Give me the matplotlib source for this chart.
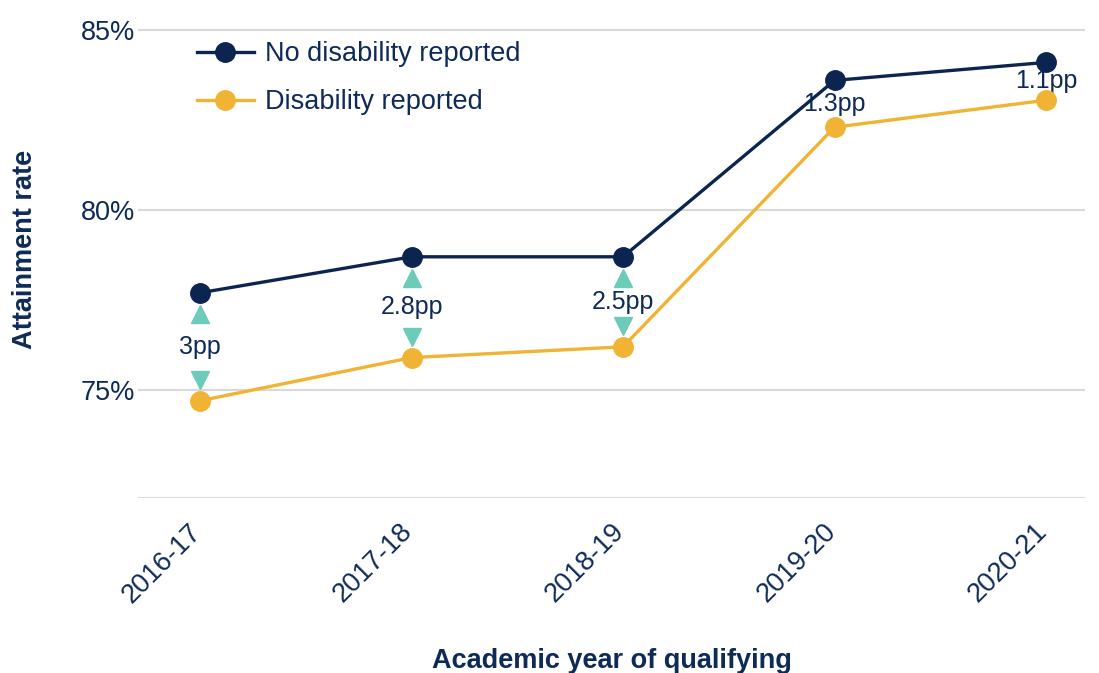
import matplotlib
matplotlib.use("Agg")
import matplotlib.pyplot as plt
from matplotlib.ticker import FuncFormatter
from matplotlib.transforms import ScaledTranslation

plt.rcParams['font.family'] = ['Liberation Sans', 'DejaVu Sans']

years = ["2016-17", "2017-18", "2018-19", "2019-20", "2020-21"]
no_disability = [77.7, 78.7, 78.7, 83.6, 84.1]
disability = [74.7, 75.9, 76.2, 82.3, 83.05]
gap_labels = ["3pp", "2.8pp", "2.5pp", "1.3pp", "1.1pp"]
yticks = [75, 80, 85]

NAVY = "#0c2450"
TEXT = "#0e2a57"
GOLD = "#f0b334"
TEAL = "#6dcbb9"

fig = plt.figure(figsize=(10.99, 6.73), dpi=100)
ax = fig.add_axes([138/1099, (673-498)/673, (1085-138)/1099, 498/673])

x = list(range(len(years)))
ax.plot(x, no_disability, color=NAVY, lw=2.4, marker='o', ms=14, label="No disability reported", zorder=4)
ax.plot(x, disability, color=GOLD, lw=2.4, marker='o', ms=14, label="Disability reported", zorder=4)

off = 0.58
for i in x:
    top, bot = no_disability[i], disability[i]
    gap = top - bot
    if gap > 2:
        ax.plot(i, top - off, marker='^', ms=13, color=TEAL, ls='none', zorder=3)
        ax.plot(i, bot + off, marker='v', ms=13, color=TEAL, ls='none', zorder=3)
    ax.text(i, (top + bot) / 2, gap_labels[i], ha='center', va='center', fontsize=18,
            color=TEXT, zorder=2)

ax.set_xlim(-0.293, 4.184)
ax.set_ylim(72, 85 + 30/36)
ax.set_yticks([72] + yticks)
ax.yaxis.set_major_formatter(FuncFormatter(lambda v, p: "" if v == 72 else f"{v:.0f}%"))
ax.set_xticks(x)
ax.set_xticklabels(years, rotation=45, ha='right', rotation_mode='anchor')
ax.tick_params(axis='both', length=0, labelsize=19.5, labelcolor=TEXT)
ax.tick_params(axis='x', pad=12)
ax.tick_params(axis='y', pad=2)
shift = ScaledTranslation(-12/100, -4/100, fig.dpi_scale_trans)
for lab in ax.get_xticklabels():
    lab.set_transform(lab.get_transform() + shift)
ax.grid(axis='y', color='#d9d9d9', lw=1.5)
ax.set_axisbelow(True)
for s in ax.spines.values():
    s.set_visible(False)

ax.set_xlabel("Academic year of qualifying", fontsize=19.5, fontweight='bold', color=TEXT, labelpad=29)
ax.set_ylabel("Attainment rate", fontsize=19.5, fontweight='bold', color=TEXT)
ax.yaxis.set_label_coords(-0.1056, 0.5)

leg = ax.legend(loc='upper left', bbox_to_anchor=(197/1099, (673-41)/673), bbox_transform=fig.transFigure,
                frameon=False, fontsize=19.5, borderpad=0, borderaxespad=0,
                handlelength=2.1, handletextpad=0.4, labelspacing=0.82)
for t in leg.get_texts():
    t.set_color(TEXT)

fig.savefig("out.png", dpi=100)
